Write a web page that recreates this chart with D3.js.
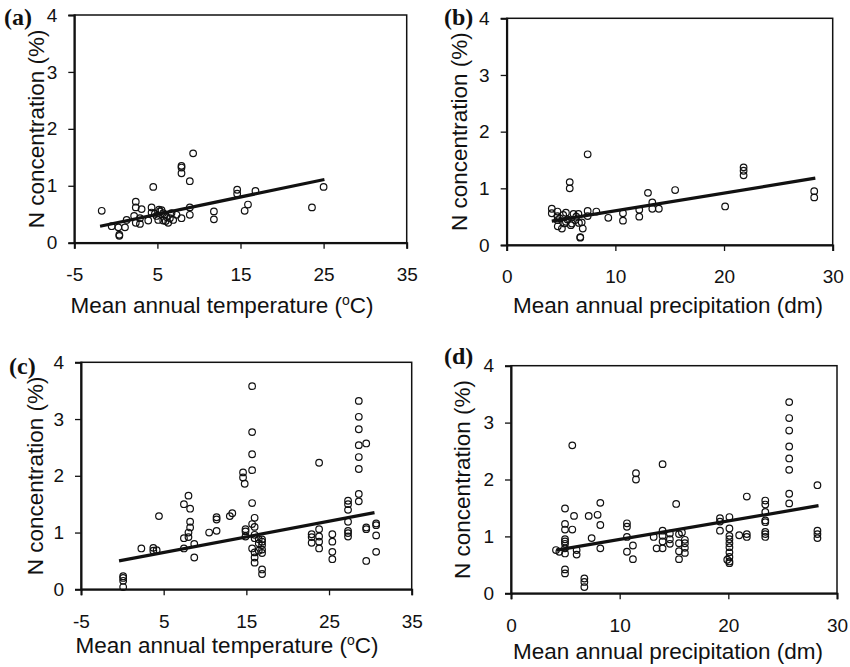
<!DOCTYPE html>
<html>
<head>
<meta charset="utf-8">
<script src="https://cdn.jsdelivr.net/npm/d3@7"></script>
<style>
  body { margin: 0; background: #fff; }
  svg { display: block; }
  .tick-label { font-family: "Liberation Sans", Arial, sans-serif; font-size: 19px; fill: #111; }
  .axis-title { font-family: "Liberation Sans", Arial, sans-serif; font-size: 22.5px; fill: #111; }
  .panel-tag { font-family: "Liberation Serif", "Times New Roman", serif; font-size: 24px; font-weight: bold; fill: #111; }
</style>
</head>
<body>
<svg id="chart" width="850" height="667"></svg>
<script>
// ---- data: [x, N %] ----
const pointsA = [
  [-1.7,0.56],[-0.5,0.29],[0.3,0.27],[0.42,0.12],[0.42,0.14],[1.1,0.27],[1.3,0.40],
  [2.4,0.72],[2.4,0.62],[2.2,0.47],[2.4,0.35],[2.9,0.33],[3.1,0.59],[2.9,0.43],
  [3.9,0.39],[4.3,0.62],[4.3,0.53],[4.5,0.98],[4.9,0.47],[5.1,0.40],[5.3,0.55],
  [5.5,0.57],[5.7,0.39],[5.9,0.49],[6.3,0.35],[6.5,0.43],[6.7,0.52],[6.9,0.40],
  [7.3,0.49],[7.9,1.35],[7.9,1.32],[7.9,1.22],[7.9,0.43],[8.9,1.08],[8.9,0.62],
  [8.9,0.49],[9.3,1.57],[11.8,0.55],[11.8,0.41],[14.6,0.93],[14.6,0.86],[15.5,0.56],
  [15.9,0.67],[16.8,0.91],[23.6,0.62],[25.0,0.98],
  [5.2,0.58],[5.7,0.52],[6.1,0.45],[6.0,0.38],[4.7,0.51]
];
const pointsB = [
  [4.15,0.64],[4.15,0.56],[4.67,0.59],[4.67,0.51],[4.67,0.44],[4.7,0.33],[5.08,0.29],
  [5.2,0.53],[5.45,0.57],[5.45,0.41],[5.8,1.11],[5.8,1.0],[5.9,0.35],[6.15,0.55],
  [6.3,0.44],[6.4,0.5],[6.6,0.55],[6.65,0.39],[6.77,0.14],[6.77,0.13],[7.0,0.29],
  [7.45,1.60],[7.45,0.6],[7.45,0.51],[8.25,0.59],[9.35,0.48],[10.7,0.56],[10.7,0.43],
  [12.2,0.62],[12.2,0.5],[13.0,0.92],[13.4,0.75],[13.4,0.64],[14.0,0.64],[15.5,0.97],
  [20.1,0.68],[21.8,1.37],[21.8,1.31],[21.8,1.23],[28.3,0.95],[28.3,0.84],
  [4.9,0.47],[5.6,0.45],[6.0,0.38],[6.9,0.40],[5.3,0.38]
];
const pointsC = [
  [0.1,0.23],[0.1,0.2],[0.1,0.15],[0.1,0.04],
  [2.3,0.72],[3.75,0.73],[3.75,0.68],[4.15,0.69],[4.43,1.29],
  [7.45,1.50],[8.0,1.65],[8.2,1.42],[8.2,1.19],[8.2,1.09],[8.0,1.0],[8.0,0.92],
  [7.45,0.9],[7.45,0.72],[8.7,0.80],[8.7,0.56],
  [10.5,1.0],[11.4,1.27],[11.4,1.23],[11.4,1.03],[13.0,1.29],[13.3,1.34],
  [14.6,2.06],[14.6,1.97],[14.8,1.86],[14.9,1.06],[14.9,1.02],[14.9,0.93],
  [15.7,3.58],[15.7,2.77],[15.7,2.38],[15.7,2.10],[15.7,1.52],[16.0,1.26],[15.7,1.15],
  [16.0,1.10],[16.0,0.96],[16.0,0.90],[16.5,0.88],[16.9,0.88],[16.9,0.84],[16.5,0.81],
  [16.9,0.78],[15.7,0.72],[16.0,0.65],[16.5,0.68],[16.9,0.70],[16.9,0.64],[16.0,0.56],
  [16.0,0.47],[16.9,0.35],[16.9,0.27],
  [22.9,0.97],[22.9,0.92],[22.9,0.82],[23.8,2.23],[23.8,1.06],[23.8,0.93],[23.8,0.84],
  [23.8,0.72],[25.4,0.97],[25.4,0.84],[25.4,0.66],[25.4,0.53],
  [27.3,1.56],[27.3,1.50],[27.3,1.40],[27.3,1.19],[27.3,1.03],[27.3,0.99],[27.3,0.93],
  [28.6,3.32],[28.6,3.04],[28.6,2.82],[28.6,2.54],[29.5,2.57],[28.6,2.33],[28.6,2.12],
  [28.6,1.68],[28.6,1.55],[29.5,1.09],[29.5,1.06],[29.5,0.50],[30.7,1.16],[30.7,1.13],
  [30.7,0.95],[30.7,0.66]
];
const pointsD = [
  [4.14,0.76],[4.45,0.73],[4.97,1.49],[4.97,1.22],[4.97,1.12],[4.97,0.95],[4.97,0.91],
  [4.97,0.87],[4.97,0.79],[4.97,0.70],[4.97,0.42],[4.97,0.35],[5.64,2.60],[5.64,1.12],
  [5.8,1.36],[6.04,0.76],[6.04,0.68],[6.75,0.26],[6.75,0.20],[6.75,0.11],[7.15,1.36],
  [7.42,0.97],[7.97,1.38],[8.22,1.59],[8.22,1.20],[8.22,0.79],
  [10.67,1.23],[10.67,1.17],[10.67,0.99],[10.67,0.73],[11.22,0.84],[11.22,0.60],
  [11.5,2.11],[11.5,2.0],
  [13.13,0.99],[13.4,0.79],[13.95,2.27],[13.95,1.10],[13.95,1.01],[13.95,0.91],
  [13.95,0.79],[14.62,1.05],[14.62,0.95],[14.62,0.87],[15.2,1.57],[15.46,1.04],
  [15.46,0.88],[15.46,0.74],[15.46,0.60],[15.73,1.07],[16.0,0.94],[16.0,0.88],
  [16.0,0.80],[16.0,0.71],
  [19.23,1.32],[19.23,1.26],[19.23,1.10],[20.1,1.34],[20.1,1.14],[20.1,1.01],[20.1,0.95],
  [20.1,0.88],[20.1,0.81],[20.1,0.72],[20.1,0.64],[20.1,0.56],[20.1,0.53],[19.9,0.59],
  [21.0,1.02],[21.7,1.70],[21.7,1.04],[21.7,0.99],
  [23.4,1.63],[23.4,1.56],[23.4,1.43],[23.4,1.28],[23.4,1.25],[23.4,1.08],[23.4,1.04],
  [23.4,0.99],
  [25.6,3.36],[25.6,3.08],[25.6,2.86],[25.6,2.58],[25.6,2.37],[25.6,2.17],[25.6,1.75],
  [25.6,1.58],
  [28.2,1.90],[28.2,1.10],[28.2,1.04],[28.2,0.97]
];

// fitted regression lines (end points)
const fitA = [[-1.9,0.29],[25.1,1.11]];
const fitB = [[4.15,0.42],[28.4,1.18]];
const fitC = [[-0.4,0.50],[30.5,1.35]];
const fitD = [[4.2,0.76],[28.3,1.54]];

const tempTicks = [-5, 5, 15, 25, 35];
const precTicks = [0, 10, 20, 30];
const nTicks = [0, 1, 2, 3, 4];

const yTitle = "N concentration (%)";

// panel boxes: left, top, right, bottom (pixels)
const panels = [
  {tag: "(a)", box: [74.3, 15, 406.7, 242.7], xdom: [-5, 35], ticks: tempTicks, pts: pointsA, fit: fitA,
   xtitle: "temp", titleX: 222, titleDy: 70, tagPos: [4, 25], ytX: 44},
  {tag: "(b)", box: [506.7, 18.3, 832.7, 245], xdom: [0, 30], ticks: precTicks, pts: pointsB, fit: fitB,
   xtitle: "prec", titleX: 668, titleDy: 68, tagPos: [444, 25], ytX: 467},
  {tag: "(c)", box: [81, 362.3, 411.7, 589.3], xdom: [-5, 35], ticks: tempTicks, pts: pointsC, fit: fitC,
   xtitle: "temp", titleX: 227, titleDy: 64, tagPos: [9, 374], ytX: 43},
  {tag: "(d)", box: [511, 365.7, 837, 593.3], xdom: [0, 30], ticks: precTicks, pts: pointsD, fit: fitD,
   xtitle: "prec", titleX: 668, titleDy: 66, tagPos: [444, 364], ytX: 470}
];

const svg = d3.select("#chart");

panels.forEach(p => {
  const [l, t, r, b] = p.box;
  const x = d3.scaleLinear().domain(p.xdom).range([l, r]);
  const y = d3.scaleLinear().domain([0, 4]).range([b, t]);
  const g = svg.append("g");

  // frame
  g.append("rect")
    .attr("x", l).attr("y", t)
    .attr("width", r - l).attr("height", b - t)
    .attr("fill", "none").attr("stroke", "#111").attr("stroke-width", 1.5);

  // axes, plain hyphen for negatives like the original
  const yAxis = g.append("g")
    .attr("transform", `translate(${l},0)`)
    .call(d3.axisLeft(y).tickValues(nTicks).tickFormat(d => String(d)).tickSize(6).tickPadding(11));
  const xAxis = g.append("g")
    .attr("transform", `translate(0,${b})`)
    .call(d3.axisBottom(x).tickValues(p.ticks).tickFormat(d => String(d)).tickSize(6).tickPadding(19));

  [yAxis, xAxis].forEach(a => {
    a.select(".domain").attr("stroke", "#111").attr("stroke-width", 2);
    a.selectAll(".tick line").attr("stroke", "#111").attr("stroke-width", 1.3);
    a.selectAll(".tick text").attr("class", "tick-label").attr("fill", null);
  });

  // points
  g.append("g")
    .selectAll("circle")
    .data(p.pts)
    .join("circle")
    .attr("cx", d => x(d[0]))
    .attr("cy", d => y(d[1]))
    .attr("r", 3.3)
    .attr("fill", "none")
    .attr("stroke", "#111")
    .attr("stroke-width", 1.2);

  // regression line
  g.append("path")
    .datum(p.fit)
    .attr("d", d3.line().x(d => x(d[0])).y(d => y(d[1])))
    .attr("fill", "none")
    .attr("stroke", "#111")
    .attr("stroke-width", 3.2);

  // y title
  g.append("text")
    .attr("class", "axis-title")
    .attr("text-anchor", "middle")
    .attr("transform", `translate(${p.ytX},${(t + b) / 2}) rotate(-90)`)
    .text(yTitle);

  // x title
  const xt = g.append("text")
    .attr("class", "axis-title")
    .attr("text-anchor", "middle")
    .attr("x", p.titleX)
    .attr("y", b + p.titleDy);
  if (p.xtitle == "temp") {
    xt.append("tspan").text("Mean annual temperature (");
    xt.append("tspan").attr("font-size", "14px").attr("dy", "-8").text("o");
    xt.append("tspan").attr("dy", "8").text("C)");
  } else {
    xt.text("Mean annual precipitation (dm)");
  }

  // panel tag
  g.append("text")
    .attr("class", "panel-tag")
    .attr("x", p.tagPos[0]).attr("y", p.tagPos[1])
    .text(p.tag);
});
</script>
</body>
</html>
